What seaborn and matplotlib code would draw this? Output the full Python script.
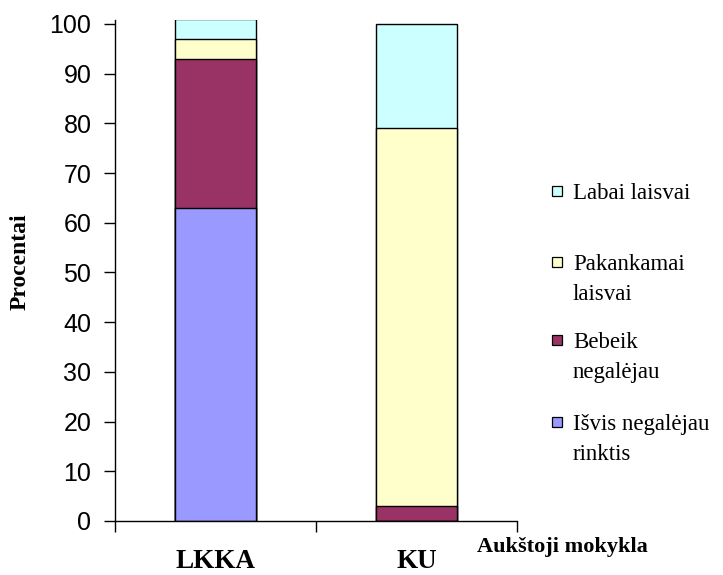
# stacked bar chart: how freely students could choose (LKKA vs KU)
import numpy as np
import pandas as pd
import matplotlib
matplotlib.use("Agg")
import matplotlib.pyplot as plt
import seaborn as sns
from matplotlib.patches import Rectangle

# data
schools = ["LKKA", "KU"]
isvis = [63, 0]
bebeik = [30, 3]
pakankamai = [4, 76]
labai = [4, 21]

series = ["Išvis negalėjau\nrinktis", "Bebeik\nnegalėjau", "Pakankamai\nlaisvai", "Labai laisvai"]
colors = ["#9999FF", "#993366", "#FFFFCC", "#CCFFFF"]
yticks = list(range(0, 101, 10))

sns.set_style("white")
plt.rcParams["font.family"] = ["Liberation Serif", "DejaVu Serif"]
plt.rcParams["text.color"] = "black"
plt.rcParams["xtick.color"] = "black"
plt.rcParams["ytick.color"] = "black"

W, H = 723, 575
fig = plt.figure(figsize=(W / 100, H / 100), dpi=100)
ax = fig.add_axes([115 / W, 1 - 521 / H, (517 - 115) / W, (521 - 20) / H])

# stack by drawing cumulative totals from the top segment down
values = np.array([isvis, bebeik, pakankamai, labai])
cum = values.cumsum(axis=0)
for i in range(len(series) - 1, -1, -1):
    df = pd.DataFrame({"school": schools, "val": cum[i]})
    sns.barplot(data=df, x="school", y="val", color=colors[i], saturation=1,
                width=0.4, edgecolor="black", linewidth=1, errorbar=None, ax=ax)

ax.set_ylim(0, 100.8)
ax.set_xlim(-0.5, 1.5)
ax.set_yticks(yticks)
ax.set_yticklabels([str(t) for t in yticks], family="Liberation Sans", fontsize=18)
ax.tick_params(axis="y", direction="out", length=8, width=1, color="black",
               labelcolor="black", pad=9, left=True)

ax.set_xticks([0, 1])
ax.set_xticklabels(schools, fontsize=19.5, fontweight="bold")
ax.set_xticks([-0.5, 0.5, 1.5], minor=True)
ax.tick_params(axis="x", which="major", length=0, pad=20, labelcolor="black")
ax.tick_params(axis="x", which="minor", direction="out", length=8, width=1, color="black", bottom=True)

ax.set_xlabel("")
ax.set_ylabel("")
for s in ["top", "right"]:
    ax.spines[s].set_visible(False)
for s in ["left", "bottom"]:
    ax.spines[s].set_color("black")
    ax.spines[s].set_linewidth(1)

fig.text(20 / W, 1 - 262 / H, "Procentai", rotation=90, fontsize=17, fontweight="bold",
         ha="center", va="center")
fig.text(477 / W, 1 - 552 / H, "Aukštoji mokykla", fontsize=16, fontweight="bold",
         ha="left", va="baseline")

# legend drawn by hand (top entry first)
leg_y = [191, 262, 340, 422]
line_gap = 30
order = [3, 2, 1, 0]
for y, idx in zip(leg_y, order):
    fig.patches.append(Rectangle((552 / W, 1 - (y + 5) / H), 10 / W, 10 / H,
                                 transform=fig.transFigure, facecolor=colors[idx],
                                 edgecolor="black", linewidth=0.9))
    for j, line in enumerate(series[idx].split("\n")):
        fig.text(573 / W, 1 - (y + j * line_gap) / H, line, fontsize=16.5,
                 ha="left", va="center_baseline")

fig.savefig("out.png", dpi=100)
